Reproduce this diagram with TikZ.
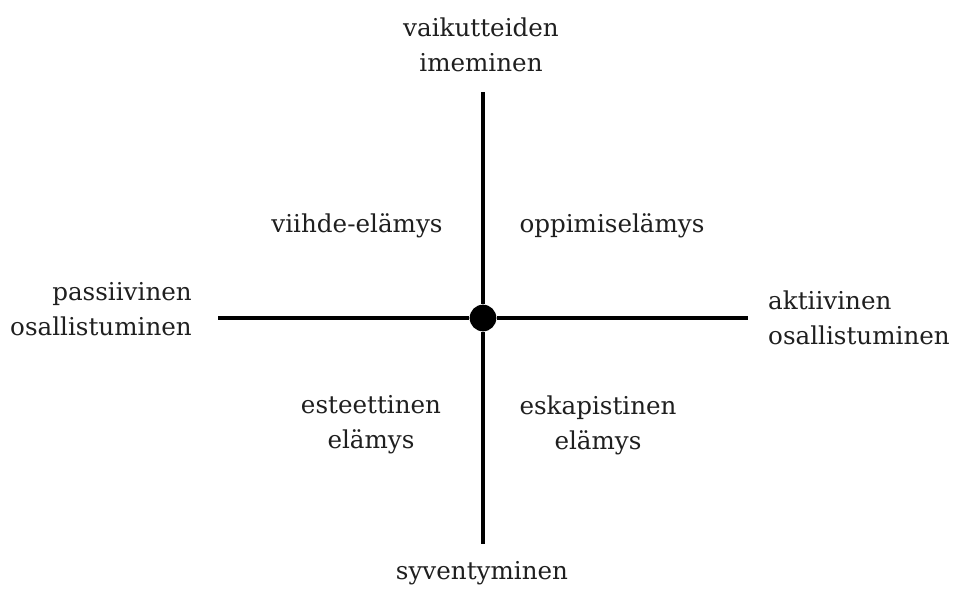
\documentclass[tikz,border=0pt]{standalone}
\usepackage{fontspec}
\setmainfont{DejaVu Serif}
\usepackage{tikz}
\usetikzlibrary{positioning}

\tikzset{
  lab/.style={font=\fontsize{21}{30}\selectfont,text=black!88,inner sep=0pt,align=center},
  axis/.style={line width=4.2pt}
}

\begin{document}
\begin{tikzpicture}[x=0.03cm,y=-0.03cm]
  \useasboundingbox (0,0) rectangle (955,588);
  % axes
  \coordinate (n) at (483,92);
  \coordinate (s) at (483,544);
  \coordinate (w) at (218,318);
  \coordinate (e) at (748,318);
  \node[circle,fill=black,minimum size=0.8cm,inner sep=0pt] (o) at (483,318) {};
  \draw[axis] (n) -- (o) -- (s);
  \draw[axis] (w) -- (o) -- (e);
  % ends
  \node[lab] (imem) at (481,45) {vaikutteiden\\imeminen};
  \node[lab] (syv) at (482,573) {syventyminen};
  \node[lab,align=right,anchor=east] (pass) at (192,309) {passiivinen\\osallistuminen};
  \node[lab,align=left,anchor=west] (akt) at (768,318) {aktiivinen\\osallistuminen};
  % quadrants
  \node[lab] (viihde) at (357,226) {viihde-elämys};
  \node[lab] (oppi) at (612,226) {oppimiselämys};
  \node[lab] (este) at (371,425) {esteettinen\\elämys};
  \node[lab] (eska) at (598,425) {eskapistinen\\elämys};
\end{tikzpicture}
\end{document}
